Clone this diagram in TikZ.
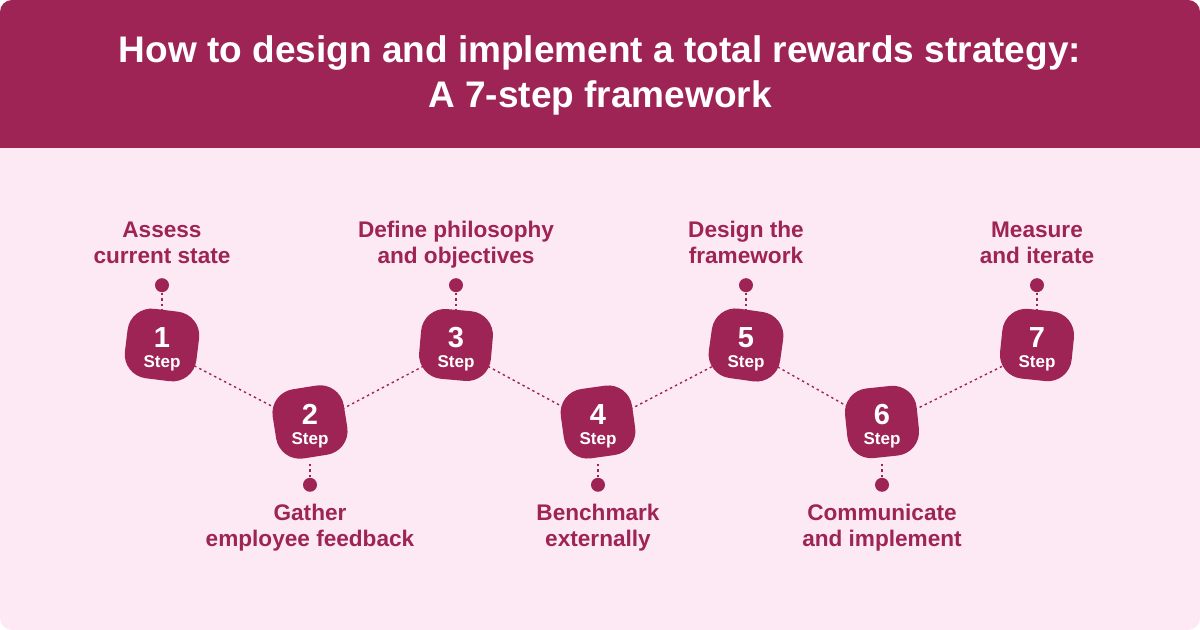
\documentclass[tikz,border=0pt]{standalone}
\usepackage{fontspec}
\setmainfont{Liberation Sans}
\usetikzlibrary{positioning}
\definecolor{berry}{HTML}{9E2456}
\definecolor{blush}{HTML}{FCE9F3}

\begin{document}
\begin{tikzpicture}[x=0.5pt,y=-0.5pt,
 blob/.style={circle,minimum size=36pt,inner sep=0pt,text=white,align=center,font=\bfseries},
 pin/.style={circle,fill=berry,minimum size=7pt,inner sep=0pt},
 lbl/.style={text=berry,align=center,inner sep=0pt,text depth=2.5pt,font=\bfseries\fontsize{11.3}{13}\selectfont},
 link/.style={berry,line width=0.7pt,dash pattern=on 1.2pt off 1.6pt}]
\useasboundingbox (0,0) rectangle (1200,630);
\begin{scope}
\clip[rounded corners=6pt] (0,0) rectangle (1200,630);
\fill[blush] (0,0) rectangle (1200,630);
\fill[berry] (0,0) rectangle (1200,148);
\end{scope}
\node[text=white,align=center,font=\bfseries\fontsize{18.5}{22.5}\selectfont] (title) at (600,75)
 {How to design and implement a total rewards strategy:\\A 7-step framework};
% step blobs
\foreach \n/\x/\y/\a in {1/162/345/-7,2/310/422/9,3/456/345/-5,4/598/422/8,5/746/345/-8,6/882/422/6,7/1037/345/-6}{
 \fill[berry,rounded corners=12pt,rotate around={\a:(\x,\y)}] (\x-36,\y-35) rectangle (\x+36,\y+35);
 \node[blob,yshift=-2pt] (s\n) at (\x,\y) {{\fontsize{14.5}{14}\selectfont\n}\\[-2pt]{\fontsize{8.5}{9}\selectfont Step}};
}
\foreach \a/\b in {1/2,2/3,3/4,4/5,5/6,6/7}
 \draw[link] (s\a) -- (s\b);
% pins above
\foreach \n in {1,3,5,7}{
 \node[pin,above=10pt of s\n] (p\n) {};
 \draw[link] (p\n) -- (s\n);
}
% pins below
\foreach \n in {2,4,6}{
 \node[pin,below=7.5pt of s\n] (p\n) {};
 \draw[link] (p\n) -- (s\n);
}
\node[lbl,above=4.5pt of p1] (t1) {Assess\\current state};
\node[lbl,below=6pt of p2] (t2) {Gather\\employee feedback};
\node[lbl,above=4.5pt of p3] (t3) {Define philosophy\\and objectives};
\node[lbl,below=6pt of p4] (t4) {Benchmark\\externally};
\node[lbl,above=4.5pt of p5] (t5) {Design the\\framework};
\node[lbl,below=6pt of p6] (t6) {Communicate\\and implement};
\node[lbl,above=4.5pt of p7] (t7) {Measure\\and iterate};
\end{tikzpicture}
\end{document}
